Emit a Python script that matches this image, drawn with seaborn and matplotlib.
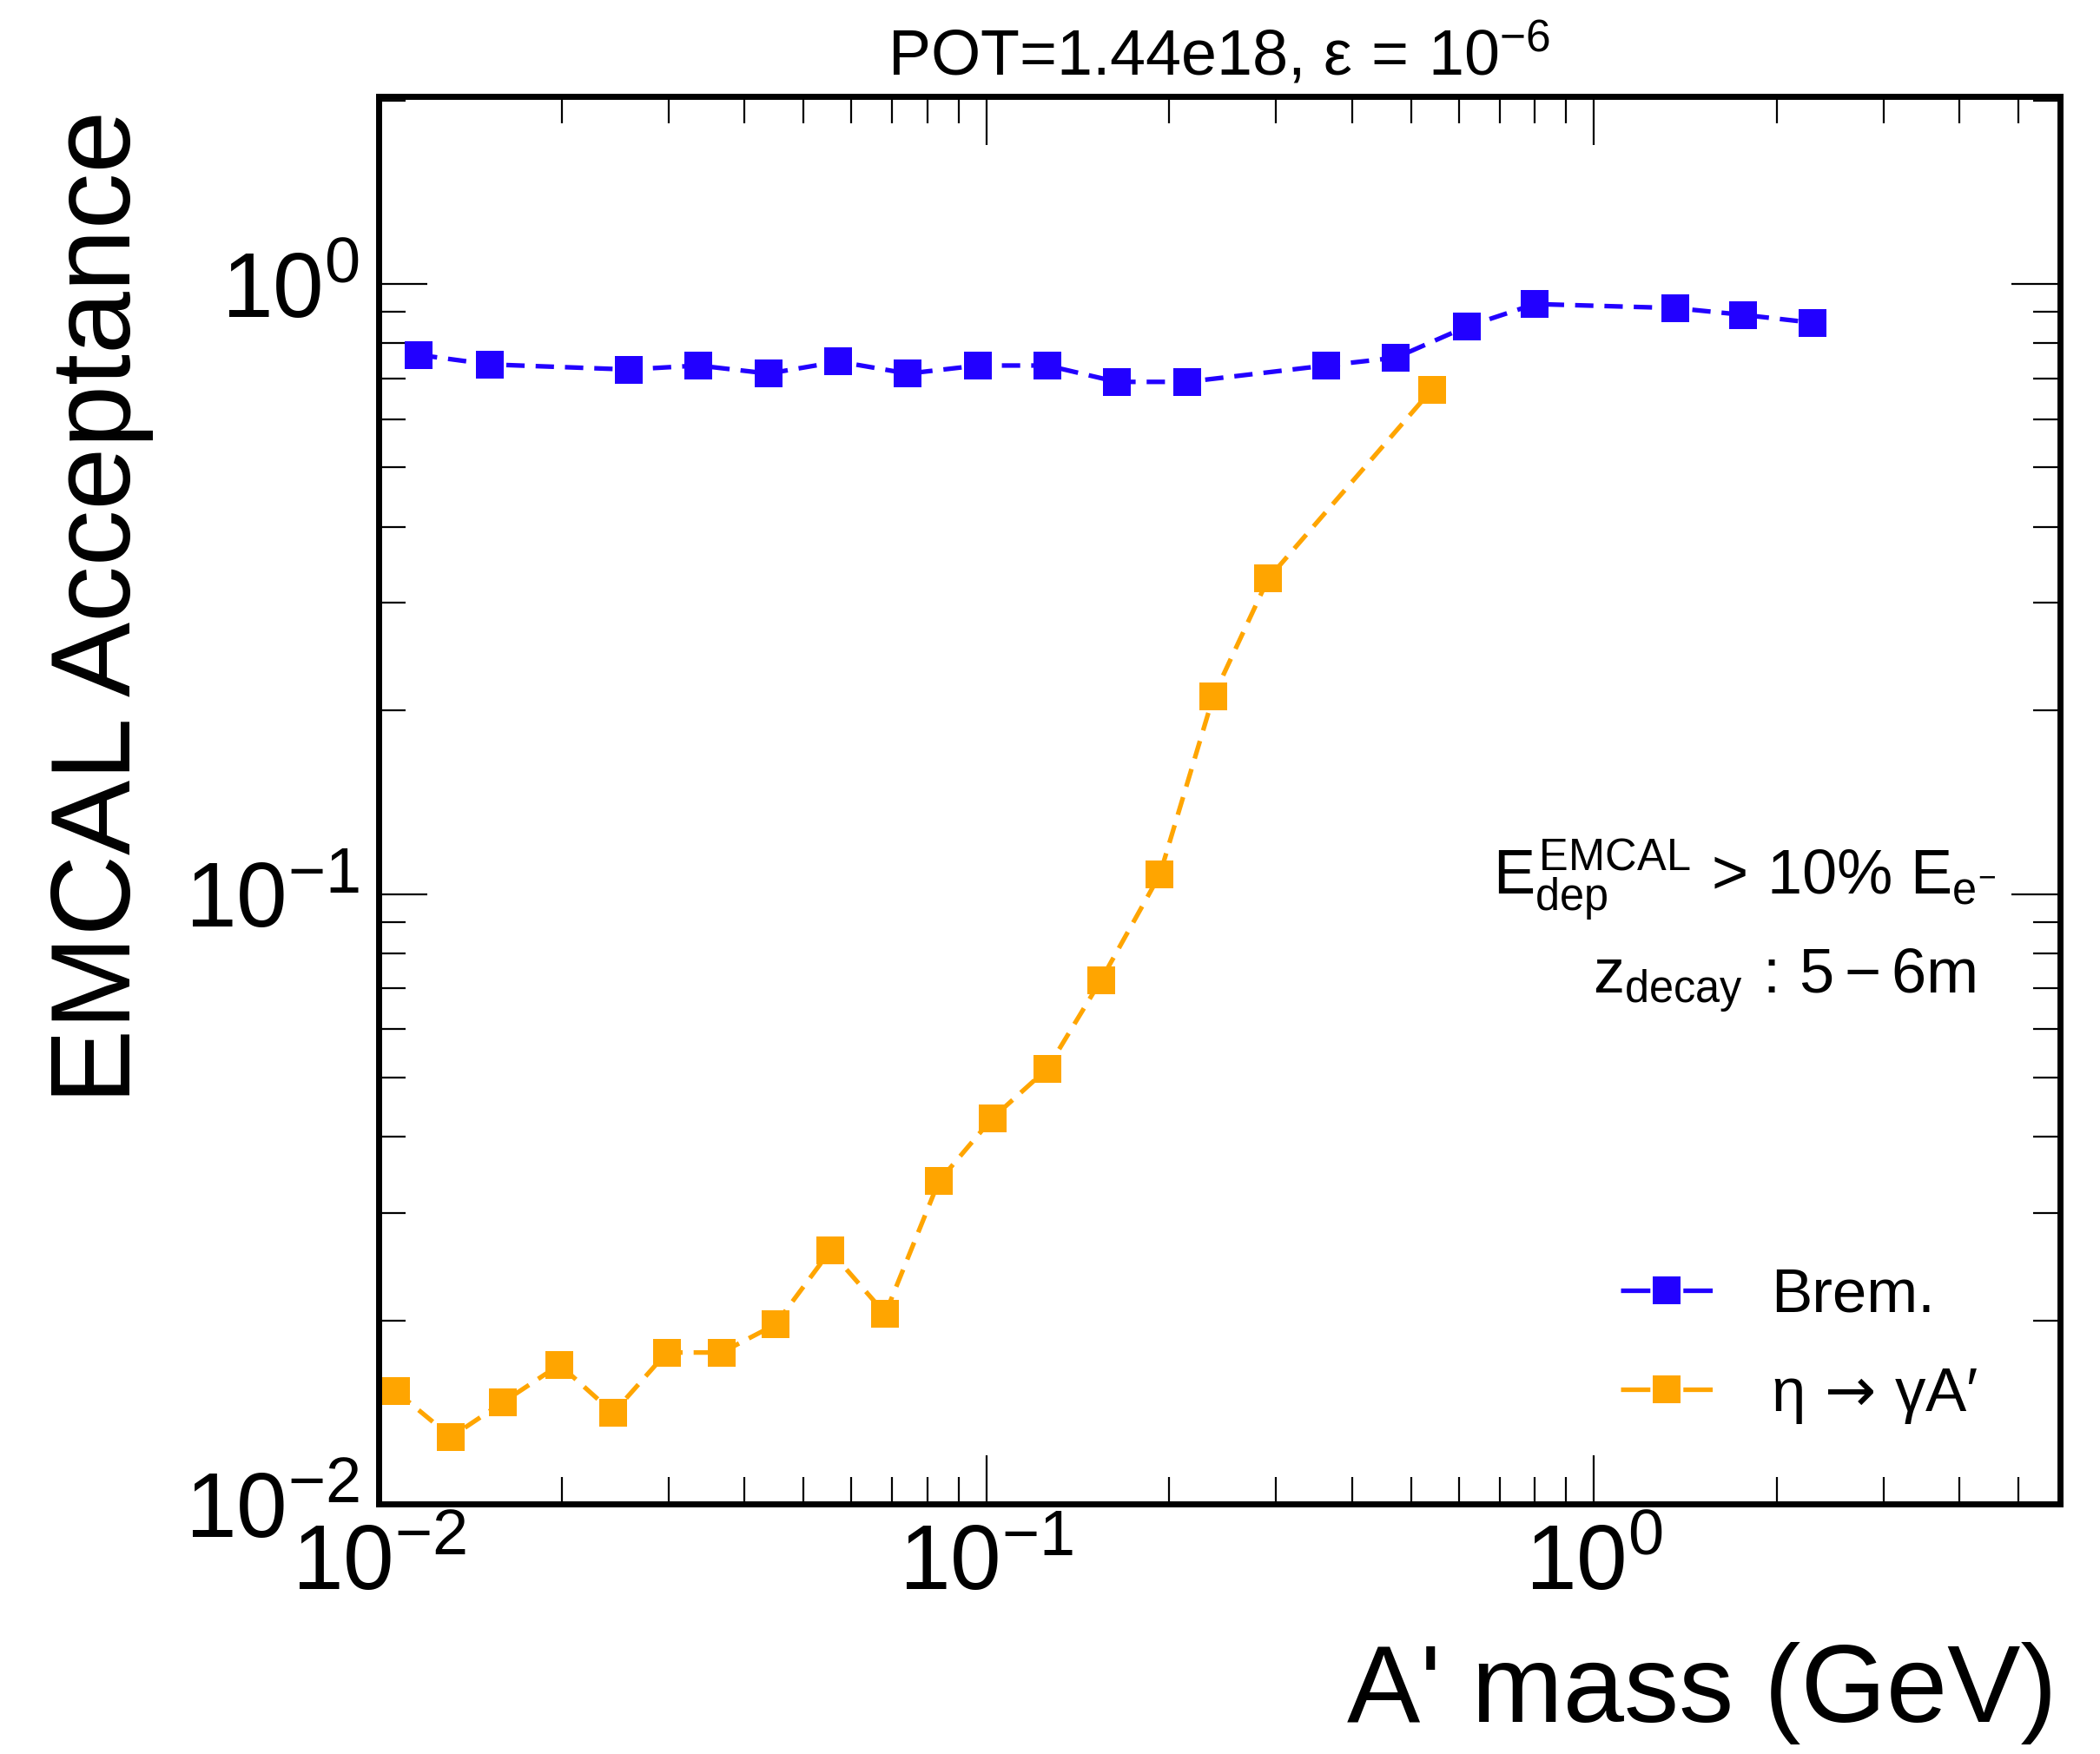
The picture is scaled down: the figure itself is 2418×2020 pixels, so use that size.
import numpy as np
import pandas as pd
import matplotlib
matplotlib.use("Agg")
import matplotlib.pyplot as plt
from matplotlib.ticker import LogLocator, NullFormatter, FixedLocator
import seaborn as sns

# ---------------- data ----------------
brem_mass = [0.01165, 0.01524, 0.0258, 0.0336, 0.0438, 0.0571, 0.0743, 0.0969, 0.126,
             0.164, 0.214, 0.362, 0.472, 0.617, 0.800, 1.36, 1.76, 2.29]
brem_acc = [0.765, 0.738, 0.724, 0.735, 0.713, 0.746, 0.713, 0.735, 0.735,
            0.691, 0.691, 0.735, 0.757, 0.851, 0.927, 0.913, 0.890, 0.864]

eta_mass = [0.01068, 0.01316, 0.01603, 0.01985, 0.02432, 0.02979, 0.03667, 0.04496, 0.05534,
            0.06820, 0.08356, 0.1023, 0.1260, 0.1544, 0.1930, 0.2364, 0.2911, 0.541]
eta_acc = [0.01529, 0.01288, 0.01469, 0.01691, 0.01410, 0.01771, 0.01771, 0.01968, 0.02600,
           0.02050, 0.03381, 0.04288, 0.05169, 0.07219, 0.1075, 0.2108, 0.3288, 0.6709]

series_names = ["Brem.", r"$\eta\,\mathsf{\rightarrow}\,\gamma A′$"]
series_colors = ["#2200ff", "#ffa500"]
major_ticks = [1e-2, 1e-1, 1e0]
xtick_labels = [r"$10^{-2}$", r"$10^{-1}$", r"$10^{0}$"]
ytick_labels = [r"$10^{-2}$", r"$10^{-1}$", r"$10^{0}$"]

title_text = r"POT=1.44e18, $\varepsilon\,=\,10^{-6}$"
note1 = r"$E^{\mathrm{EMCAL}}_{\mathrm{dep}}\,>\,10\%\ E_{e^{-}}$"
note2 = r"$z_{\mathrm{decay}}\,:\,5 - 6\mathrm{m}$"

# ---------------- style ----------------
sns.set_style("ticks")
plt.rcParams["font.family"] = ["Liberation Sans", "DejaVu Sans"]
plt.rcParams["mathtext.fontset"] = "custom"
plt.rcParams["mathtext.rm"] = "Liberation Sans"
plt.rcParams["mathtext.it"] = "Liberation Sans"
plt.rcParams["mathtext.bf"] = "Liberation Sans:bold"
plt.rcParams["mathtext.sf"] = "DejaVu Sans"
plt.rcParams["mathtext.fallback"] = "stixsans"
for key in ("text.color", "axes.labelcolor", "xtick.color", "ytick.color", "axes.edgecolor"):
    plt.rcParams[key] = "black"

df = pd.concat([
    pd.DataFrame({"mass": brem_mass, "acc": brem_acc, "proc": series_names[0]}),
    pd.DataFrame({"mass": eta_mass, "acc": eta_acc, "proc": series_names[1]}),
], ignore_index=True)

W, H = 2418, 2020
fig = plt.figure(figsize=(W / 100, H / 100), dpi=100)
ax = fig.add_axes([436 / W, 1 - 1732 / H, (2372 - 436) / W, (1732 - 111) / H])

for name, color in zip(series_names, series_colors):
    sub = df[df["proc"] == name]
    sns.lineplot(data=sub, x="mass", y="acc", ax=ax, color=color, marker="s",
                 markersize=23, markeredgewidth=0, linewidth=3.8,
                 linestyle=(0, (4, 2.4)), label=name, sort=False, errorbar=None)

ax.set_xscale("log")
ax.set_yscale("log")
ax.set_xlim(0.01, 5.85)
ax.set_ylim(0.01, 2.03)

for axis in (ax.xaxis, ax.yaxis):
    axis.set_major_locator(FixedLocator(major_ticks))
    axis.set_minor_locator(LogLocator(base=10, subs=np.arange(2, 10), numticks=20))
    axis.set_minor_formatter(NullFormatter())
ax.set_xticklabels(xtick_labels)
ax.set_yticklabels(ytick_labels)

ax.tick_params(which="both", direction="in", top=True, right=True, width=1.6, color="black")
ax.tick_params(which="major", length=40)
ax.tick_params(which="minor", length=22)
ax.tick_params(axis="x", which="major", labelsize=76, pad=16)
ax.tick_params(axis="y", which="major", labelsize=76, pad=16)

for sp in ax.spines.values():
    sp.set_linewidth(5.0)
    sp.set_color("black")
    sp.set_visible(True)

ax.set_xlabel("A' mass (GeV)", fontsize=91, loc="right")
ax.xaxis.set_label_coords(0.998, -0.098)
ax.set_ylabel("EMCAL Acceptance", fontsize=93, loc="top")
ax.yaxis.set_label_coords(-0.134, 0.990)

ax.set_title(title_text, fontsize=53, pad=18)

ax.text(0.962, 0.433, note1, transform=ax.transAxes, ha="right", va="baseline", fontsize=52)
ax.text(0.950, 0.363, note2, transform=ax.transAxes, ha="right", va="baseline", fontsize=52)

leg = ax.legend(loc="center left", bbox_to_anchor=(0.7386, 0.112), frameon=False, fontsize=51,
                handlelength=1.5, handletextpad=0.95, labelspacing=0.68, borderpad=0,
                borderaxespad=0)
for ln in leg.get_lines():
    ln.set_linestyle((0, (6.4, 7.2)))

fig.savefig("out.png", dpi=100)
